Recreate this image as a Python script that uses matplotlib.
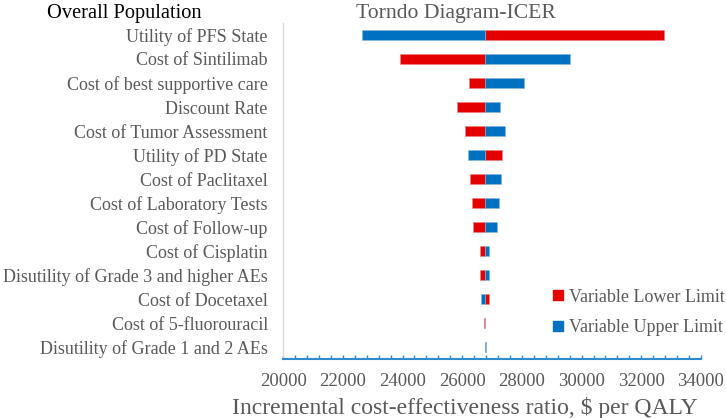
import matplotlib.pyplot as plt
import matplotlib.lines as mlines
import numpy as np

plt.rcParams['font.family'] = ['Liberation Serif', 'DejaVu Serif']

# parameters, top to bottom
params = ['Utility of PFS State', 'Cost of Sintilimab', 'Cost of best supportive care',
          'Discount Rate', 'Cost of Tumor Assessment', 'Utility of PD State',
          'Cost of Paclitaxel', 'Cost of Laboratory Tests', 'Cost of Follow-up',
          'Cost of Cisplatin', 'Disutility of Grade 3 and higher AEs', 'Cost of Docetaxel',
          'Cost of 5-fluorouracil', 'Disutility of Grade 1 and 2 AEs']
base_icer = 26770
# ICER at the lower / upper limit of each variable
lower_limit = [32750, 23920, 26230, 25820, 26110, 27350, 26250, 26320, 26370,
               26610, 26610, 26890, 26740, 26765]
upper_limit = [22640, 29610, 28080, 27280, 27440, 26210, 27290, 27220, 27170,
               26910, 26900, 26640, 26780, 26800]

red = '#E50000'
blue = '#0070C0'
grey = '#595959'

fig = plt.figure(figsize=(7.26, 4.18), dpi=100)
ax = fig.add_axes([0.390, 0.141, 0.5755, 0.804])

y = np.arange(len(params))
lo = np.array(lower_limit) - base_icer
hi = np.array(upper_limit) - base_icer
ax.barh(y, lo, left=base_icer, height=0.4, color=red, edgecolor='#F08080', linewidth=0.4)
ax.barh(y, hi, left=base_icer, height=0.4, color=blue, edgecolor='#80B8E0', linewidth=0.4)

ax.set_xlim(20000, 34000)
ax.set_ylim(len(params) - 0.5, -0.5)
ax.set_yticks(y)
ax.set_yticklabels(params, fontsize=13, color=grey)
ax.tick_params(axis='y', length=0, pad=11)

ax.set_xticks(np.arange(20000, 34001, 2000))
ax.set_xticks(np.arange(20400, 34000, 400), minor=True)
ax.tick_params(axis='x', which='major', direction='in', length=3, color='#2E8BCE',
               width=1, pad=10, labelsize=13.5, labelcolor=grey)
ax.tick_params(axis='x', which='minor', direction='in', length=3, color='#2E8BCE', width=1)

for s in ['top', 'right']:
    ax.spines[s].set_visible(False)
ax.spines['left'].set_color('#D9D9D9')
ax.spines['left'].set_linewidth(1)
ax.spines['bottom'].set_color('#2E8BCE')
ax.spines['bottom'].set_linewidth(1.5)

ax.set_xlabel('Incremental cost-effectiveness ratio, $ per QALY', fontsize=17,
              color=grey, labelpad=5, x=0.435)

fig.text(0.628, 0.968, 'Torndo Diagram-ICER', fontsize=15.6, color=grey,
         ha='center', va='center')
fig.text(0.065, 0.968, 'Overall Population', fontsize=14.7, color='black',
         ha='left', va='center')

h_lo = mlines.Line2D([], [], color=red, marker='s', linestyle='None', markersize=7,
                     label='Variable Lower Limit')
h_hi = mlines.Line2D([], [], color=blue, marker='s', linestyle='None', markersize=7,
                     label='Variable Upper Limit')
leg = ax.legend(handles=[h_lo, h_hi], loc='lower right', bbox_to_anchor=(1.095, 0.02),
                frameon=False, fontsize=13, handlelength=0.6, handletextpad=0.3,
                labelspacing=0.75)
for t in leg.get_texts():
    t.set_color(grey)

fig.savefig('out.png', dpi=100)
